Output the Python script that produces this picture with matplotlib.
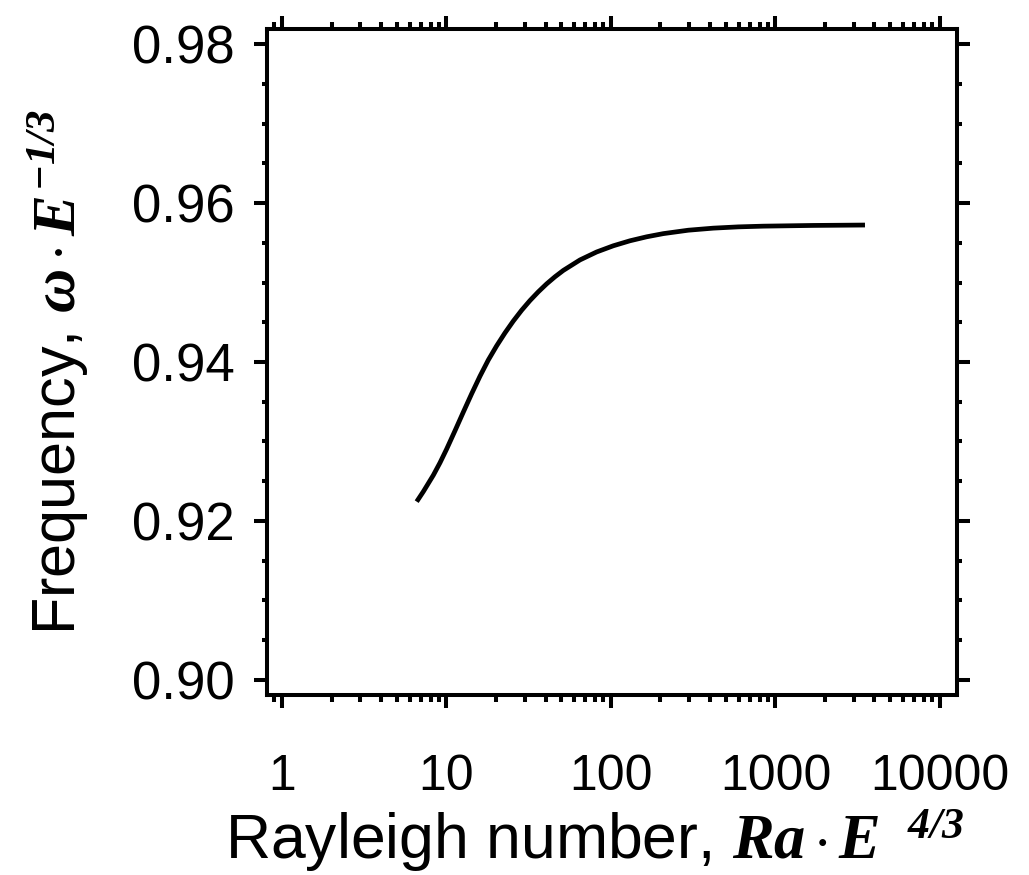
import numpy as np
import matplotlib
matplotlib.use("Agg")
import matplotlib.pyplot as plt
from matplotlib.ticker import LogLocator, FixedLocator, MultipleLocator, FormatStrFormatter, NullFormatter

# scaled Rayleigh number  Ra * E^(4/3)
rayleigh = [6.59, 7.23, 8.32, 9.13, 10.02, 11.26, 12.66, 14.22, 15.98, 17.96,
            20.18, 22.68, 25.48, 28.64, 32.18, 36.17, 40.64, 45.66, 51.31, 64.8,
            81.8, 103.3, 130.5, 164.8, 208.0, 295.2, 419.0, 594.6, 843.8, 1698.0,
            3501.0]
# scaled frequency  omega * E^(-1/3)
frequency = [0.92243, 0.92369, 0.92576, 0.92732, 0.92904, 0.93134, 0.93370, 0.93600, 0.93821, 0.94025,
             0.94203, 0.94366, 0.94515, 0.94651, 0.94773, 0.94883, 0.94983, 0.95072, 0.95152, 0.95284,
             0.95384, 0.95462, 0.95525, 0.95575, 0.95615, 0.95658, 0.95684, 0.95700, 0.95709, 0.95718,
             0.95723]

x_major = [1, 10, 100, 1000, 10000]
x_labels = ["1", "10", "100", "1000", "10000"]
y_major = [0.90, 0.92, 0.94, 0.96, 0.98]

plt.rcParams['font.family'] = ['Liberation Sans', 'DejaVu Sans']
plt.rcParams['mathtext.fontset'] = 'custom'
plt.rcParams['mathtext.rm'] = 'Liberation Sans'
plt.rcParams['mathtext.it'] = 'Liberation Serif:italic:bold'
plt.rcParams['mathtext.bf'] = 'Liberation Serif:italic:bold'

fig = plt.figure(figsize=(10.29, 8.75), dpi=100)
ax = fig.add_axes([0.2595, 0.2057, 0.6705, 0.7612])

ax.plot(rayleigh, frequency, color='black', lw=3.4, solid_capstyle='butt')

ax.set_xscale('log')
ax.set_xlim(0.811, 12690)
ax.set_ylim(0.8981, 0.9819)

ax.xaxis.set_major_locator(FixedLocator(x_major))
ax.set_xticklabels(x_labels)
ax.xaxis.set_minor_locator(LogLocator(base=10, subs=np.arange(2, 10) * 1.0, numticks=40))
ax.xaxis.set_minor_formatter(NullFormatter())

ax.yaxis.set_major_locator(FixedLocator(y_major))
ax.yaxis.set_major_formatter(FormatStrFormatter('%.2f'))
ax.yaxis.set_minor_locator(MultipleLocator(0.005))

for s in ax.spines.values():
    s.set_linewidth(2.9)

ax.tick_params(which='both', direction='out', top=True, right=True, width=2.9)
ax.tick_params(axis='x', which='major', length=9.4, labelsize=36, pad=33)
ax.tick_params(axis='x', which='minor', length=5)
ax.tick_params(axis='y', which='major', length=9.4, labelsize=38, pad=14)
ax.tick_params(axis='y', which='minor', length=3.5)

ax.set_xlabel(r"Rayleigh number, $\mathit{Ra}\,{\cdot}\,\mathit{E}^{\ \ \mathbf{4/3}}$", fontsize=45)
ax.set_ylabel(r"Frequency, $\omega\,{\cdot}\,\mathit{E}^{\mathbf{-1/3}}$", fontsize=44)
ax.xaxis.set_label_coords(0.475, -0.168)
ax.yaxis.set_label_coords(-0.255, 0.485)

fig.savefig("out.png", dpi=100, facecolor='white')
